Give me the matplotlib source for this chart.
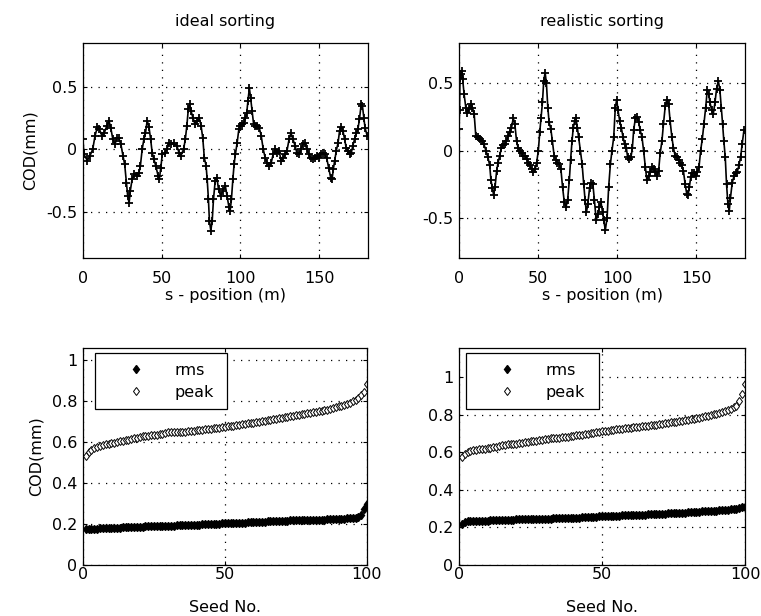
import numpy as np
import matplotlib
matplotlib.use("Agg")
import matplotlib.pyplot as plt
from matplotlib.ticker import FuncFormatter

# --- COD along the ring, ideal sorting ---
s_ideal = [0, 0.6, 2.8, 4.5, 6.2, 7.7, 9.2, 10.5, 12.0, 13.5,
           15.2, 16.5, 17.7, 19.0, 20.3, 21.6, 22.7, 24.1, 25.4, 26.5,
           27.6, 28.4, 29.3, 30.1, 31.2, 32.7, 34.4, 35.5, 36.5, 37.6,
           38.7, 39.7, 40.8, 41.9, 43.0, 44.0, 45.1, 46.2, 47.7, 48.5,
           49.4, 50.4, 51.9, 53.2, 54.7, 56.2, 57.9, 59.6, 61.1, 62.2,
           63.9, 65.0, 66.0, 66.9, 67.7, 68.6, 69.9, 71.2, 72.4, 73.9,
           75.0, 76.1, 77.1, 78.2, 78.9, 79.7, 80.3, 81.2, 82.1, 82.9,
           84.0, 85.1, 86.1, 87.4, 88.9, 90.4, 91.5, 92.7,
           93.5, 94.3, 95.2, 96.0, 96.8, 97.9, 99.0, 100.0, 101.1, 102.1,
           103.2, 104.0, 104.8, 105.7, 106.5, 107.4, 108.4, 109.5, 110.7, 112.0,
           113.2, 114.5, 115.8, 117.0, 118.3, 119.5, 120.8, 122.1, 123.3, 124.6,
           125.8, 127.1, 128.4, 129.6, 130.9, 132.1, 133.4, 134.7, 135.9, 137.2,
           138.4, 139.7, 141.0, 142.2, 143.5, 144.7, 146.0, 147.3, 148.5, 149.8,
           151.1, 152.3, 153.6, 154.8, 156.1, 157.4, 158.2, 159.0, 159.9, 160.9,
           162.0, 163.0, 164.1, 165.1, 166.2, 167.2, 168.3, 169.3, 170.4, 171.4,
           172.5, 173.5, 174.6, 175.6, 176.7, 177.5, 178.4, 179.2, 180.5]
cod_ideal = [0.08, -0.04, -0.09, -0.05, 0.0, 0.11, 0.18, 0.16, 0.11, 0.13,
             0.19, 0.23, 0.17, 0.08, 0.04, 0.09, 0.09, 0.04, -0.05, -0.12,
             -0.27, -0.37, -0.43, -0.33, -0.24, -0.20, -0.21, -0.19, -0.13, 0.0,
             0.08, 0.13, 0.23, 0.18, 0.08, -0.03, -0.08, -0.13, -0.21, -0.24,
             -0.15, -0.04, -0.03, 0.0, 0.05, 0.04, 0.05, 0.03, -0.03, -0.05,
             0.0, 0.08, 0.19, 0.32, 0.36, 0.31, 0.25, 0.20, 0.23, 0.25,
             0.19, 0.09, -0.07, -0.13, -0.24, -0.40, -0.57, -0.65, -0.57, -0.40,
             -0.25, -0.23, -0.32, -0.37, -0.33, -0.29, -0.37, -0.46,
             -0.49, -0.40, -0.24, -0.12, -0.04, 0.05, 0.16, 0.19, 0.20, 0.21,
             0.25, 0.29, 0.39, 0.49, 0.41, 0.31, 0.20, 0.19, 0.19, 0.17,
             0.11, 0.0, -0.07, -0.11, -0.13, -0.11, -0.04, 0.0, -0.03, -0.01,
             -0.09, -0.07, -0.04, -0.01, 0.08, 0.13, 0.08, 0.03, -0.03, -0.04,
             0.0, 0.04, 0.05, 0.0, -0.04, -0.07, -0.08, -0.07, -0.05, -0.07,
             -0.04, -0.03, -0.04, -0.07, -0.15, -0.23, -0.24, -0.16, -0.09, -0.01,
             0.05, 0.15, 0.18, 0.15, 0.08, 0.01, -0.01, -0.04, -0.03, 0.03,
             0.08, 0.13, 0.16, 0.24, 0.36, 0.35, 0.25, 0.17, 0.11]

# --- COD along the ring, realistic sorting ---
s_real = [0, 0.3, 0.6, 1.1, 1.7, 2.3, 3.2, 4.3, 5.3, 6.4,
          7.4, 8.5, 9.6, 10.6, 11.9, 13.2, 14.5, 15.7, 17.0, 18.3,
          19.4, 20.2, 21.1, 21.9, 22.8, 23.8, 24.7, 25.7, 26.8, 27.9,
          28.9, 30.0, 31.1, 32.1, 33.2, 34.3, 35.3, 36.4, 37.4, 38.5,
          39.6, 40.6, 41.7, 42.8, 43.8, 44.9, 46.0, 47.0, 48.1, 49.1,
          50.2, 51.1, 51.9, 52.8, 53.6, 54.5, 55.3, 56.2, 57.0, 58.1,
          59.1, 60.2, 61.3, 62.3, 63.4, 64.5, 65.5, 66.6, 67.7, 68.7,
          69.8, 70.6, 71.5, 72.3, 73.2, 74.0, 74.9, 75.7, 76.8, 77.9,
          78.9, 79.8, 80.6, 81.5, 82.6, 83.6, 84.7, 85.7, 86.8, 87.9,
          88.9, 89.8, 90.8, 91.6, 92.6, 93.7, 94.7, 95.8, 96.8, 97.9,
          98.9, 99.8, 100.6, 101.7, 102.7, 103.8, 104.8, 105.9, 106.7, 107.8,
          108.8, 109.7, 110.5, 111.6, 112.6, 113.7, 114.7, 115.8, 116.8, 117.9,
          118.9, 120.0, 121.0, 122.1, 123.1, 124.2, 125.2, 126.3, 127.3, 128.4,
          129.4, 130.5, 131.5, 132.6, 133.6, 134.7, 135.7, 136.8, 137.8, 138.9,
          139.9, 141.0, 142.0, 143.1, 144.1, 145.0, 145.8, 146.6, 147.7, 148.7,
          149.8, 150.8, 151.9, 152.9, 154.0, 155.0, 156.1, 157.1, 158.0, 158.8,
          159.9, 160.9, 162.0, 163.0, 164.1, 165.1, 166.0, 166.8, 167.6, 168.5,
          169.3, 170.2, 171.0, 171.8, 172.9, 174.0, 175.0, 176.1, 177.1, 178.2,
          179.2, 180.3]
cod_real = [0.16, 0.30, 0.54, 0.57, 0.59, 0.53, 0.42, 0.32, 0.28, 0.31,
            0.35, 0.32, 0.27, 0.11, 0.10, 0.09, 0.07, 0.05, 0.0, -0.05,
            -0.11, -0.22, -0.28, -0.33, -0.27, -0.15, -0.09, -0.04, 0.02, 0.04,
            0.05, 0.07, 0.11, 0.14, 0.17, 0.24, 0.20, 0.07, 0.02, 0.0,
            -0.02, -0.04, -0.04, -0.06, -0.09, -0.11, -0.14, -0.16, -0.14, -0.09,
            0.0, 0.14, 0.24, 0.36, 0.52, 0.58, 0.50, 0.32, 0.21, 0.16,
            0.07, -0.04, -0.07, -0.09, -0.10, -0.14, -0.27, -0.38, -0.42, -0.37,
            -0.22, -0.07, 0.07, 0.17, 0.22, 0.24, 0.17, 0.10, 0.0, -0.10,
            -0.25, -0.37, -0.46, -0.40, -0.28, -0.24, -0.25, -0.37, -0.52, -0.47,
            -0.42, -0.38, -0.46, -0.52, -0.59, -0.50, -0.27, -0.10, 0.0, 0.10,
            0.32, 0.38, 0.30, 0.22, 0.17, 0.10, 0.05, 0.02, -0.05, -0.06,
            -0.05, 0.02, 0.15, 0.24, 0.25, 0.21, 0.15, 0.10, 0.0, -0.12,
            -0.22, -0.19, -0.16, -0.12, -0.14, -0.16, -0.19, -0.15, -0.02, 0.07,
            0.20, 0.33, 0.38, 0.35, 0.22, 0.10, 0.02, -0.04, -0.05, -0.07,
            -0.09, -0.11, -0.15, -0.25, -0.32, -0.33, -0.27, -0.20, -0.17, -0.17,
            -0.19, -0.16, -0.12, 0.0, 0.09, 0.20, 0.32, 0.45, 0.42, 0.36,
            0.30, 0.27, 0.36, 0.46, 0.52, 0.45, 0.32, 0.20, 0.07, -0.05,
            -0.25, -0.40, -0.45, -0.35, -0.24, -0.19, -0.17, -0.16, -0.11, -0.05,
            0.05, 0.15]

# --- sorted rms / peak COD over 100 seeds ---
seeds = np.arange(1, 101)
peak_ideal = [0.535, 0.552, 0.563, 0.571, 0.578, 0.582, 0.586, 0.589, 0.592, 0.595,
              0.598, 0.601, 0.604, 0.607, 0.610, 0.613, 0.616, 0.619, 0.623, 0.627,
              0.629, 0.631, 0.632, 0.634, 0.635, 0.637, 0.640, 0.642, 0.645, 0.648,
              0.648, 0.649, 0.649, 0.650, 0.650, 0.652, 0.654, 0.656, 0.657, 0.659,
              0.660, 0.662, 0.663, 0.665, 0.667, 0.669, 0.670, 0.672, 0.673, 0.675,
              0.677, 0.679, 0.681, 0.683, 0.686, 0.688, 0.690, 0.692, 0.693, 0.695,
              0.698, 0.700, 0.703, 0.705, 0.708, 0.710, 0.712, 0.714, 0.717, 0.719,
              0.722, 0.724, 0.727, 0.729, 0.732, 0.734, 0.736, 0.739, 0.741, 0.743,
              0.746, 0.748, 0.751, 0.753, 0.756, 0.759, 0.763, 0.767, 0.771, 0.775,
              0.779, 0.784, 0.789, 0.794, 0.800, 0.807, 0.815, 0.830, 0.845, 0.884]
rms_ideal = [0.174, 0.176, 0.177, 0.178, 0.178, 0.179, 0.180, 0.180, 0.181, 0.182,
             0.182, 0.183, 0.183, 0.184, 0.185, 0.185, 0.186, 0.186, 0.187, 0.188,
             0.188, 0.189, 0.189, 0.190, 0.190, 0.191, 0.191, 0.192, 0.192, 0.193,
             0.193, 0.193, 0.194, 0.194, 0.194, 0.195, 0.195, 0.195, 0.196, 0.196,
             0.197, 0.198, 0.199, 0.200, 0.200, 0.201, 0.202, 0.202, 0.203, 0.204,
             0.204, 0.205, 0.205, 0.206, 0.206, 0.207, 0.207, 0.208, 0.208, 0.209,
             0.210, 0.211, 0.211, 0.212, 0.213, 0.213, 0.214, 0.215, 0.216, 0.217,
             0.217, 0.217, 0.218, 0.218, 0.218, 0.219, 0.219, 0.219, 0.220, 0.220,
             0.220, 0.221, 0.221, 0.222, 0.222, 0.223, 0.223, 0.224, 0.224, 0.225,
             0.226, 0.227, 0.228, 0.229, 0.230, 0.232, 0.237, 0.246, 0.273, 0.297]
peak_real = [0.577, 0.592, 0.603, 0.608, 0.612, 0.614, 0.616, 0.617, 0.619, 0.620,
             0.623, 0.627, 0.630, 0.634, 0.637, 0.639, 0.641, 0.643, 0.644, 0.646,
             0.648, 0.651, 0.653, 0.656, 0.658, 0.660, 0.662, 0.665, 0.667, 0.669,
             0.671, 0.673, 0.674, 0.676, 0.678, 0.680, 0.681, 0.683, 0.684, 0.686,
             0.689, 0.691, 0.694, 0.697, 0.699, 0.701, 0.704, 0.706, 0.709, 0.711,
             0.713, 0.715, 0.718, 0.720, 0.722, 0.724, 0.726, 0.727, 0.729, 0.731,
             0.733, 0.734, 0.736, 0.737, 0.739, 0.741, 0.743, 0.745, 0.746, 0.748,
             0.751, 0.753, 0.756, 0.758, 0.761, 0.763, 0.766, 0.768, 0.771, 0.773,
             0.776, 0.779, 0.781, 0.784, 0.787, 0.790, 0.794, 0.797, 0.801, 0.804,
             0.809, 0.813, 0.818, 0.824, 0.830, 0.839, 0.848, 0.874, 0.909, 0.962]
rms_real = [0.219, 0.228, 0.233, 0.234, 0.234, 0.235, 0.235, 0.235, 0.236, 0.236,
            0.237, 0.237, 0.238, 0.239, 0.239, 0.240, 0.241, 0.241, 0.242, 0.243,
            0.243, 0.244, 0.244, 0.244, 0.245, 0.245, 0.246, 0.246, 0.246, 0.247,
            0.247, 0.247, 0.248, 0.248, 0.248, 0.249, 0.249, 0.249, 0.250, 0.250,
            0.251, 0.252, 0.253, 0.254, 0.255, 0.256, 0.257, 0.257, 0.258, 0.259,
            0.259, 0.260, 0.261, 0.261, 0.262, 0.263, 0.264, 0.264, 0.265, 0.266,
            0.266, 0.267, 0.267, 0.268, 0.268, 0.269, 0.269, 0.270, 0.270, 0.271,
            0.272, 0.273, 0.274, 0.275, 0.276, 0.276, 0.277, 0.278, 0.279, 0.280,
            0.281, 0.282, 0.283, 0.284, 0.285, 0.285, 0.286, 0.287, 0.288, 0.289,
            0.290, 0.291, 0.293, 0.294, 0.296, 0.298, 0.300, 0.303, 0.306, 0.311]

plt.rcParams['font.family'] = ['DejaVu Sans']
plt.rcParams['font.size'] = 11.5
FS = 11.5

fmt = FuncFormatter(lambda v, p: '%g' % round(v, 3))


def estilo(ax, xpad):
    for sp in ax.spines.values():
        sp.set_linewidth(0.9)
        sp.set_color('black')
    ax.tick_params(direction='in', top=True, right=True, length=3,
                   width=0.8, labelsize=FS)
    ax.tick_params(axis='x', pad=xpad)
    ax.tick_params(axis='y', pad=4)
    ax.grid(True, color='black', linestyle=(0, (1, 5)), linewidth=0.9)
    ax.set_axisbelow(True)
    ax.yaxis.set_major_formatter(fmt)


def traza(ax, s, cod, ylim, titulo):
    ax.plot(s, cod, color='black', linewidth=1.2, marker='+',
            markersize=6, markeredgewidth=1.3)
    ax.set_xlim(0, 181)
    ax.set_ylim(*ylim)
    ax.set_xticks([0, 50, 100, 150])
    ax.set_yticks([-0.5, 0, 0.5])
    ax.set_title(titulo, fontsize=FS, pad=12)
    ax.set_xlabel('s - position (m)', fontsize=FS, labelpad=2)
    estilo(ax, 9)


def semillas(ax, rms, peak):
    ax.plot(seeds, rms, linestyle='none', marker='d', markersize=4.5,
            color='black', label='rms')
    ax.plot(seeds, peak, linestyle='none', marker='d', markersize=4.5,
            markerfacecolor='white', markeredgecolor='black',
            markeredgewidth=0.7, label='peak')
    ax.set_xlim(0, 100)
    ax.set_ylim(0, 1.2 * max(peak))
    ax.set_xticks([0, 50, 100])
    ax.set_yticks([0, 0.2, 0.4, 0.6, 0.8, 1.0])
    ax.set_xlabel('Seed No.', fontsize=FS, labelpad=13)
    estilo(ax, 1.5)


fig = plt.figure(figsize=(7.61, 6.16), dpi=100)

ax1 = fig.add_axes([0.109, 0.581, 0.3745, 0.349])
traza(ax1, s_ideal, cod_ideal, (-0.87, 0.85), 'ideal sorting')
ax1.set_ylabel('COD(mm)', fontsize=FS, labelpad=6)

ax2 = fig.add_axes([0.6032, 0.581, 0.3758, 0.349])
traza(ax2, s_real, cod_real, (-0.8, 0.8), 'realistic sorting')

ax3 = fig.add_axes([0.109, 0.0828, 0.3732, 0.3523])
semillas(ax3, rms_ideal, peak_ideal)
ax3.set_ylabel('COD(mm)', fontsize=FS, labelpad=6)

ax4 = fig.add_axes([0.6032, 0.0828, 0.3758, 0.3523])
semillas(ax4, rms_real, peak_real)

for ax, x0, w in [(ax3, 0.042, 0.465), (ax4, 0.024, 0.464)]:
    leg = ax.legend(loc='upper left', bbox_to_anchor=(x0, 0.977, w, 0.0),
                    mode='expand', borderaxespad=0, fancybox=False,
                    framealpha=1, edgecolor='black', fontsize=FS,
                    handlelength=4.0, handletextpad=0.4, borderpad=0.6,
                    labelspacing=0.45, markerscale=1.0)
    leg.get_frame().set_linewidth(0.9)

fig.savefig('out.png', dpi=100)
